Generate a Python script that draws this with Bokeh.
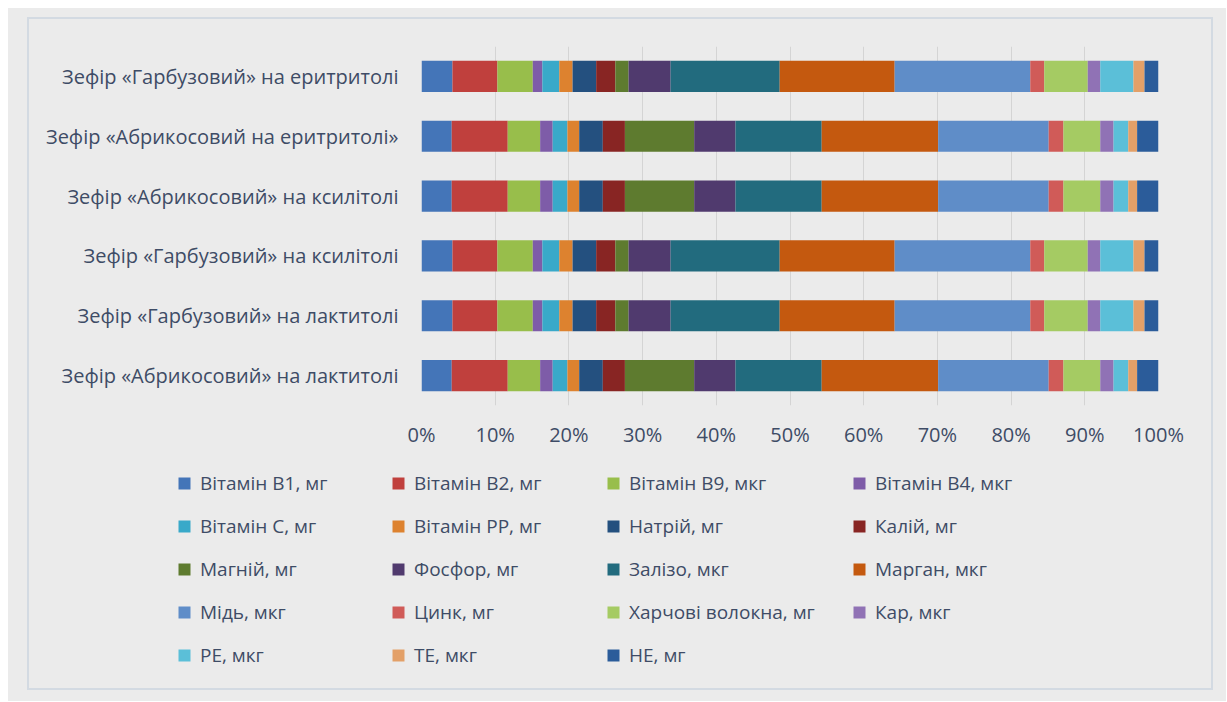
from bokeh.plotting import figure
from bokeh.models import (ColumnDataSource, FactorRange, Range1d, FixedTicker,
                          PrintfTickFormatter, Legend, LegendItem)
from bokeh.layouts import column
from bokeh.embed import file_html
from bokeh.resources import INLINE

# ---- data -------------------------------------------------------------
series = [
    "Вітамін В1, мг", "Вітамін В2, мг", "Вітамін В9, мкг", "Вітамін В4, мкг",
    "Вітамін С, мг", "Вітамін РР, мг", "Натрій, мг", "Калій, мг",
    "Магній, мг", "Фосфор, мг", "Залізо, мкг", "Марган, мкг",
    "Мідь, мкг", "Цинк, мг", "Харчові волокна, мг", "Кар, мкг",
    "РЕ, мкг", "ТЕ, мкг", "НЕ, мг",
]
colors = [
    "#4475B8", "#C0403D", "#98BE4B", "#7E5CA8",
    "#39A9C9", "#DD822F", "#24507F", "#882523",
    "#5E7B2F", "#503A6E", "#226B7E", "#C4590F",
    "#5F8DC8", "#D05B58", "#A5CB63", "#9072B5",
    "#5BBFD8", "#E3A068", "#2B5C9A",
]
categories = [
    "Зефір «Гарбузовий» на еритритолі",
    "Зефір «Абрикосовий на еритритолі»",
    "Зефір «Абрикосовий» на ксилітолі",
    "Зефір «Гарбузовий» на ксилітолі",
    "Зефір «Гарбузовий» на лактитолі",
    "Зефір «Абрикосовий» на лактитолі",
]
# shares, %
pumpkin = [4.2, 6.1, 4.8, 1.3, 2.3, 1.8, 3.2, 2.6, 1.8, 5.7,
           14.8, 15.6, 18.4, 1.9, 5.9, 1.7, 4.5, 1.5, 1.9]
apricot = [4.1, 7.6, 4.4, 1.7, 2.0, 1.6, 3.2, 3.0, 9.4, 5.6,
           11.7, 15.8, 15.0, 2.0, 5.0, 1.8, 2.0, 1.2, 2.9]
row_values = [pumpkin, apricot, apricot, pumpkin, pumpkin, apricot]
x_ticks = [0, 10, 20, 30, 40, 50, 60, 70, 80, 90, 100]

# ---- build ------------------------------------------------------------
TEXT = "#3E4C66"
FONT = "Open Sans"
BG = "#EBEBEB"
W = 1182

keys = [f"s{i}" for i in range(len(series))]
data = {"cat": categories}
for i, k in enumerate(keys):
    data[k] = [row[i] / sum(row) * 100 for row in row_values]
source = ColumnDataSource(data)

p = figure(width=W, height=436,
           y_range=FactorRange(factors=categories[::-1]),
           x_range=Range1d(0, 100),
           output_backend="svg", toolbar_location=None,
           min_border_left=392, min_border_right=53,
           min_border_top=27, min_border_bottom=50)
p.frame_align = False

renderers = p.hbar_stack(keys, y="cat", height=0.52, fill_color=colors,
                         line_color=None, source=source)

p.background_fill_color = BG
p.border_fill_color = BG
p.outline_line_color = None

p.ygrid.grid_line_color = None
p.xgrid.grid_line_color = "#D4D4D4"
p.xgrid.grid_line_width = 1
p.xaxis.ticker = FixedTicker(ticks=x_ticks)
p.xaxis.formatter = PrintfTickFormatter(format="%d%%")

for ax in (p.xaxis, p.yaxis):
    ax.axis_line_color = None
    ax.major_tick_line_color = None
    ax.minor_tick_line_color = None
    ax.major_tick_out = 0
    ax.major_tick_in = 0
    ax.major_label_text_color = TEXT
    ax.major_label_text_font = FONT
p.yaxis.major_label_text_font_size = "20px"
p.xaxis.major_label_text_font_size = "20px"
p.xaxis.major_label_standoff = 15
p.yaxis.major_label_standoff = 23

# ---- legend panel (4 columns, filled row by row) ----------------------
pl = figure(width=W, height=233, x_range=Range1d(0, 100),
            y_range=FactorRange(factors=categories[::-1]),
            x_axis_type=None, y_axis_type=None,
            output_backend="svg", toolbar_location=None,
            min_border=0)
pl.frame_align = False
pl.background_fill_color = BG
pl.border_fill_color = BG
pl.outline_line_color = None
pl.grid.visible = False

swatches = []
for k, c in zip(keys, colors):
    r = pl.scatter(x=k, y="cat", source=source, marker="square", size=12,
                   fill_color=c, line_color=None)
    r.visible = False
    swatches.append(r)

box_left = [169, 383, 598, 844]   # page x of each legend column
page_left, page_bottom, legend_top = 29, 688, 468
for c in range(4):
    idx = list(range(c, len(series), 4))
    items = [LegendItem(label=series[i], renderers=[swatches[i]]) for i in idx]
    n = len(idx)
    h = n * 30 + (n - 1) * 13
    lg = Legend(items=items,
                location=(box_left[c] - page_left, page_bottom - (legend_top + h)),
                orientation="vertical",
                glyph_width=30, glyph_height=30, label_height=30,
                spacing=13, label_standoff=1, padding=0, margin=0,
                border_line_color=None, background_fill_alpha=0,
                label_text_font=FONT, label_text_font_size="19px",
                label_text_color=TEXT)
    pl.add_layout(lg)

inner = column(p, pl, margin=(9, 13, 11, 19), spacing=0,
               styles={"border": "2px solid #D3DAE2"})
root = column(inner, margin=(8, 0, 0, 8), styles={"background-color": BG})

open("out.html", "w").write(file_html(root, INLINE))
